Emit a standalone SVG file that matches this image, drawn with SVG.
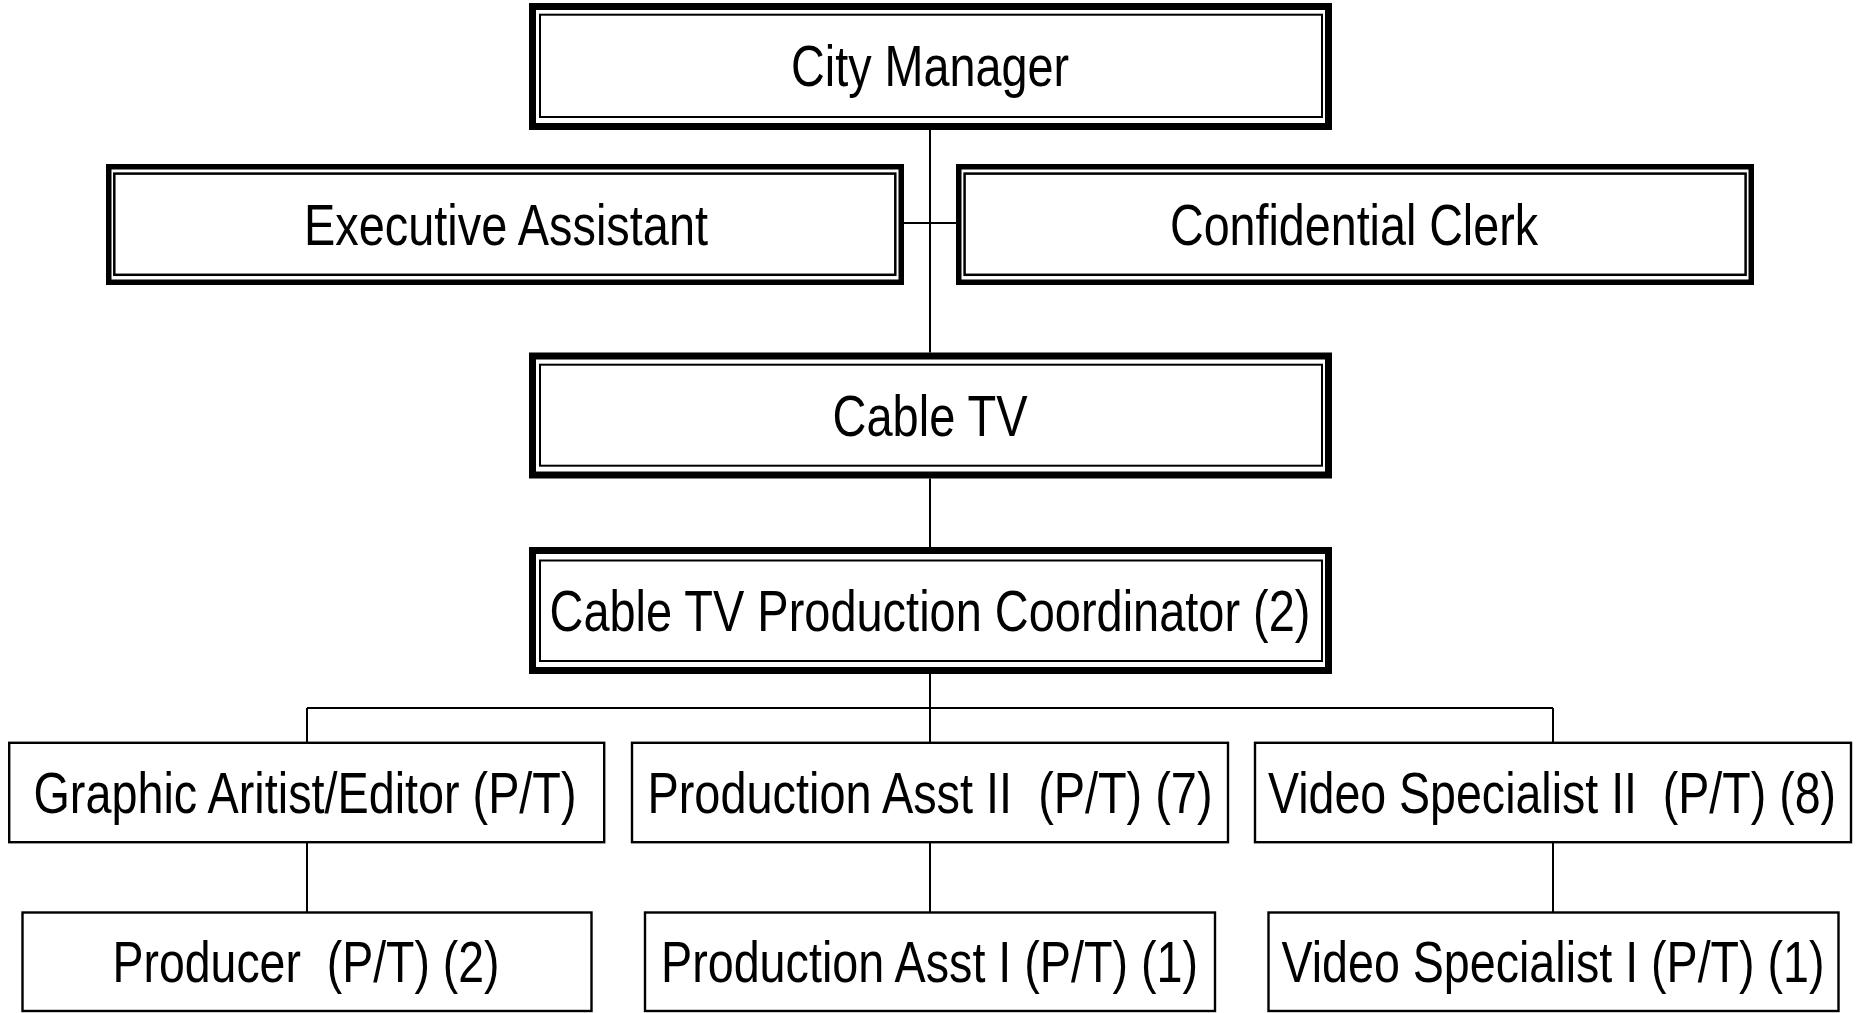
<svg xmlns="http://www.w3.org/2000/svg" width="1860" height="1013" viewBox="0 0 1860 1013">
<style>
  .bg { fill: #ffffff; }
  .outer { fill: #ffffff; stroke: #000000; stroke-width: 7; }
  .outer2 { fill: #ffffff; stroke: #000000; stroke-width: 5.5; }
  .inner { fill: none; stroke: #000000; stroke-width: 2; }
  .inner2 { fill: none; stroke: #000000; stroke-width: 2.5; }
  .plain { fill: #ffffff; stroke: #000000; stroke-width: 2.4; }
  .lbl { font-family: "Liberation Sans Narrow", "Liberation Sans", Arial, sans-serif; font-size: 57px; fill: #000000; text-anchor: middle; }
  .conn { fill: none; stroke: #000000; stroke-width: 2; }
</style>
<rect class="bg" x="0" y="0" width="1860" height="1013"/>

<g id="connectors">
  <path class="conn" d="M930 130 V352.5"/>
  <path class="conn" d="M904 223 H956"/>
  <path class="conn" d="M930 478.5 V547"/>
  <path class="conn" d="M930 674 V708"/>
  <path class="conn" d="M307 708 H1553"/>
  <path class="conn" d="M307 708 V742"/>
  <path class="conn" d="M930 708 V742"/>
  <path class="conn" d="M1553 708 V742"/>
  <path class="conn" d="M307 843 V912"/>
  <path class="conn" d="M930 843 V912"/>
  <path class="conn" d="M1553 843 V912"/>
</g>

<g id="city-manager">
  <rect class="outer" x="532.5" y="6.5" width="796" height="120"/>
  <rect class="inner" x="540" y="14.7" width="782" height="102.3"/>
  <text class="lbl" x="930" y="86" textLength="278" lengthAdjust="spacingAndGlyphs">City Manager</text>
</g>

<g id="executive-assistant">
  <rect class="outer2" x="108.75" y="166.75" width="792.5" height="115.5"/>
  <rect class="inner2" x="114.3" y="173.6" width="781" height="101.2"/>
  <text class="lbl" x="506" y="245" textLength="404" lengthAdjust="spacingAndGlyphs">Executive Assistant</text>
</g>

<g id="confidential-clerk">
  <rect class="outer2" x="958.75" y="166.75" width="792.5" height="115.5"/>
  <rect class="inner2" x="964.6" y="173.6" width="781" height="101.2"/>
  <text class="lbl" x="1354" y="245" textLength="368" lengthAdjust="spacingAndGlyphs">Confidential Clerk</text>
</g>

<g id="cable-tv">
  <rect class="outer" x="532.5" y="356" width="796" height="119"/>
  <rect class="inner" x="540" y="364.7" width="782" height="101"/>
  <text class="lbl" x="930" y="436" textLength="195" lengthAdjust="spacingAndGlyphs">Cable TV</text>
</g>

<g id="cable-tv-production-coordinator">
  <rect class="outer" x="532.5" y="550.5" width="796" height="120"/>
  <rect class="inner" x="540" y="560.5" width="782" height="100.5"/>
  <text class="lbl" x="930" y="631" textLength="761" lengthAdjust="spacingAndGlyphs">Cable TV Production Coordinator (2)</text>
</g>

<g id="graphic-artist-editor">
  <rect class="plain" x="9.2" y="742.8" width="595" height="99.4"/>
  <text class="lbl" x="305" y="813" textLength="543" lengthAdjust="spacingAndGlyphs">Graphic Aritist/Editor (P/T)</text>
</g>

<g id="production-asst-ii">
  <rect class="plain" x="632" y="742.8" width="596" height="99.4"/>
  <text class="lbl" x="930" y="813" textLength="565" lengthAdjust="spacingAndGlyphs" xml:space="preserve">Production Asst II  (P/T) (7)</text>
</g>

<g id="video-specialist-ii">
  <rect class="plain" x="1255" y="742.8" width="596" height="99.4"/>
  <text class="lbl" x="1552" y="813" textLength="568" lengthAdjust="spacingAndGlyphs" xml:space="preserve">Video Specialist II  (P/T) (8)</text>
</g>

<g id="producer">
  <rect class="plain" x="22.5" y="912.5" width="569" height="98.5"/>
  <text class="lbl" x="306" y="982" textLength="387" lengthAdjust="spacingAndGlyphs" xml:space="preserve">Producer  (P/T) (2)</text>
</g>

<g id="production-asst-i">
  <rect class="plain" x="645" y="912.5" width="570" height="98.5"/>
  <text class="lbl" x="929.5" y="982" textLength="537" lengthAdjust="spacingAndGlyphs">Production Asst I (P/T) (1)</text>
</g>

<g id="video-specialist-i">
  <rect class="plain" x="1268.5" y="912.5" width="570" height="98.5"/>
  <text class="lbl" x="1553" y="982" textLength="543" lengthAdjust="spacingAndGlyphs">Video Specialist I (P/T) (1)</text>
</g>
</svg>
